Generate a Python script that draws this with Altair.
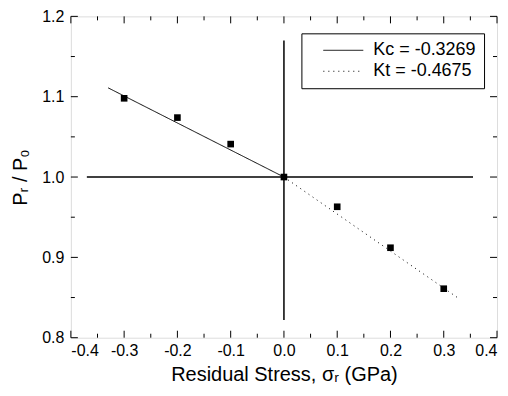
import altair as alt
import pandas as pd

# data points
stress = [-0.3, -0.2, -0.1, 0.0, 0.1, 0.2, 0.3]
ratio = [1.098, 1.074, 1.041, 1.000, 0.963, 0.912, 0.861]

# fitted lines
fit_names = ["Kc = -0.3269", "Kc = -0.3269", "Kt = -0.4675", "Kt = -0.4675"]
fit_x = [-0.33, 0.0, 0.0, 0.33]
fit_y = [1.111, 1.0, 1.0, 0.848]

# reference cross lines
href_x = [-0.37, 0.355]
href_y = [1.0, 1.0]
vref_x = [0.0, 0.0]
vref_y = [0.822, 1.17]

# ticks
major_x = [-0.4, -0.3, -0.2, -0.1, 0.0, 0.1, 0.2, 0.3, 0.4]
minor_x = [-0.35, -0.25, -0.15, -0.05, 0.05, 0.15, 0.25, 0.35]
major_y = [0.8, 0.9, 1.0, 1.1, 1.2]
minor_y = [0.85, 0.95, 1.05, 1.15]

W, H = 427, 322
FONT = "Liberation Sans"

xs = alt.Scale(domain=[-0.4, 0.4], nice=False, zero=False)
ys = alt.Scale(domain=[0.8, 1.2], nice=False, zero=False)

pts = pd.DataFrame({"x": stress, "y": ratio})
fits = pd.DataFrame({"x": fit_x, "y": fit_y, "name": fit_names})
href = pd.DataFrame({"x": href_x, "y": href_y})
vref = pd.DataFrame({"x": vref_x, "y": vref_y})

x_axis = alt.Axis(values=major_x, ticks=False, domain=False, grid=False,
                  labelExpr="datum.value < 0 ? '-' + format(-datum.value, '.1f') : format(datum.value, '.1f')",
                  labelFontSize=16, labelFont=FONT, labelColor="black", labelPadding=5,
                  title="Residual Stress, σᵣ (GPa)", titleFont=FONT, titleFontSize=20,
                  titleFontWeight="normal", titleColor="black", titlePadding=6)
y_axis = alt.Axis(values=major_y, format=".1f", ticks=False, domain=False, grid=False,
                  labelFontSize=16, labelFont=FONT, labelColor="black", labelPadding=7,
                  title="Pᵣ / P₀", titleFont=FONT, titleFontSize=20,
                  titleFontWeight="normal", titleColor="black", titlePadding=11)


def X(f):
    return alt.X(f, scale=xs, axis=x_axis)


def Y(f):
    return alt.Y(f, scale=ys, axis=y_axis)


points = alt.Chart(pts).mark_square(size=44, color="black", opacity=1, filled=True).encode(
    x=X("x:Q"), y=Y("y:Q"),
)

fit_lines = alt.Chart(fits).mark_line(color="black", strokeWidth=1).encode(
    x=X("x:Q"), y=Y("y:Q"),
    strokeDash=alt.StrokeDash("name:N",
                              scale=alt.Scale(domain=["Kc = -0.3269", "Kt = -0.4675"],
                                              range=[[1, 0], [1, 4]]),
                              legend=alt.Legend(title=None, orient="none", legendX=231, legendY=17,
                                                fillColor="white", strokeColor="black",
                                                padding=8, symbolType="M1,0H9", symbolSize=100,
                                                symbolStrokeWidth=1, symbolStrokeColor="black",
                                                labelFont=FONT, labelFontSize=18, labelColor="black",
                                                labelOffset=46, rowPadding=3)),
)

h_line = alt.Chart(href).mark_line(color="black", strokeWidth=1.5).encode(
    x=X("x:Q"), y=Y("y:Q"),
)
v_line = alt.Chart(vref).mark_line(color="black", strokeWidth=1.5).encode(
    x=X("x:Q"), y=Y("y:Q"), order=alt.Order("y:Q"),
)


def xticks(vals, length):
    d = pd.DataFrame({"v": vals})
    base = alt.Chart(d).mark_rule(color="black", strokeWidth=1)
    bottom = base.encode(x=X("v:Q"), y=alt.value(H), y2=alt.value(H - length))
    top = base.encode(x=X("v:Q"), y=alt.value(0), y2=alt.value(length))
    return [bottom, top]


def yticks(vals, length):
    d = pd.DataFrame({"v": vals})
    base = alt.Chart(d).mark_rule(color="black", strokeWidth=1)
    left = base.encode(y=Y("v:Q"), x=alt.value(0), x2=alt.value(length))
    right = base.encode(y=Y("v:Q"), x=alt.value(W), x2=alt.value(W - length))
    return [left, right]


tick_layers = xticks(major_x, 7) + xticks(minor_x, 4) + yticks(major_y, 7) + yticks(minor_y, 4)

chart = alt.layer(points, h_line, v_line, fit_lines, *tick_layers).properties(
    width=W, height=H, padding={"left": 2, "top": 0, "right": 2, "bottom": 0}
).configure_view(stroke="black", strokeWidth=2).configure(background="white")

chart.save("out.html", embed_options={"renderer": "svg", "actions": False})
